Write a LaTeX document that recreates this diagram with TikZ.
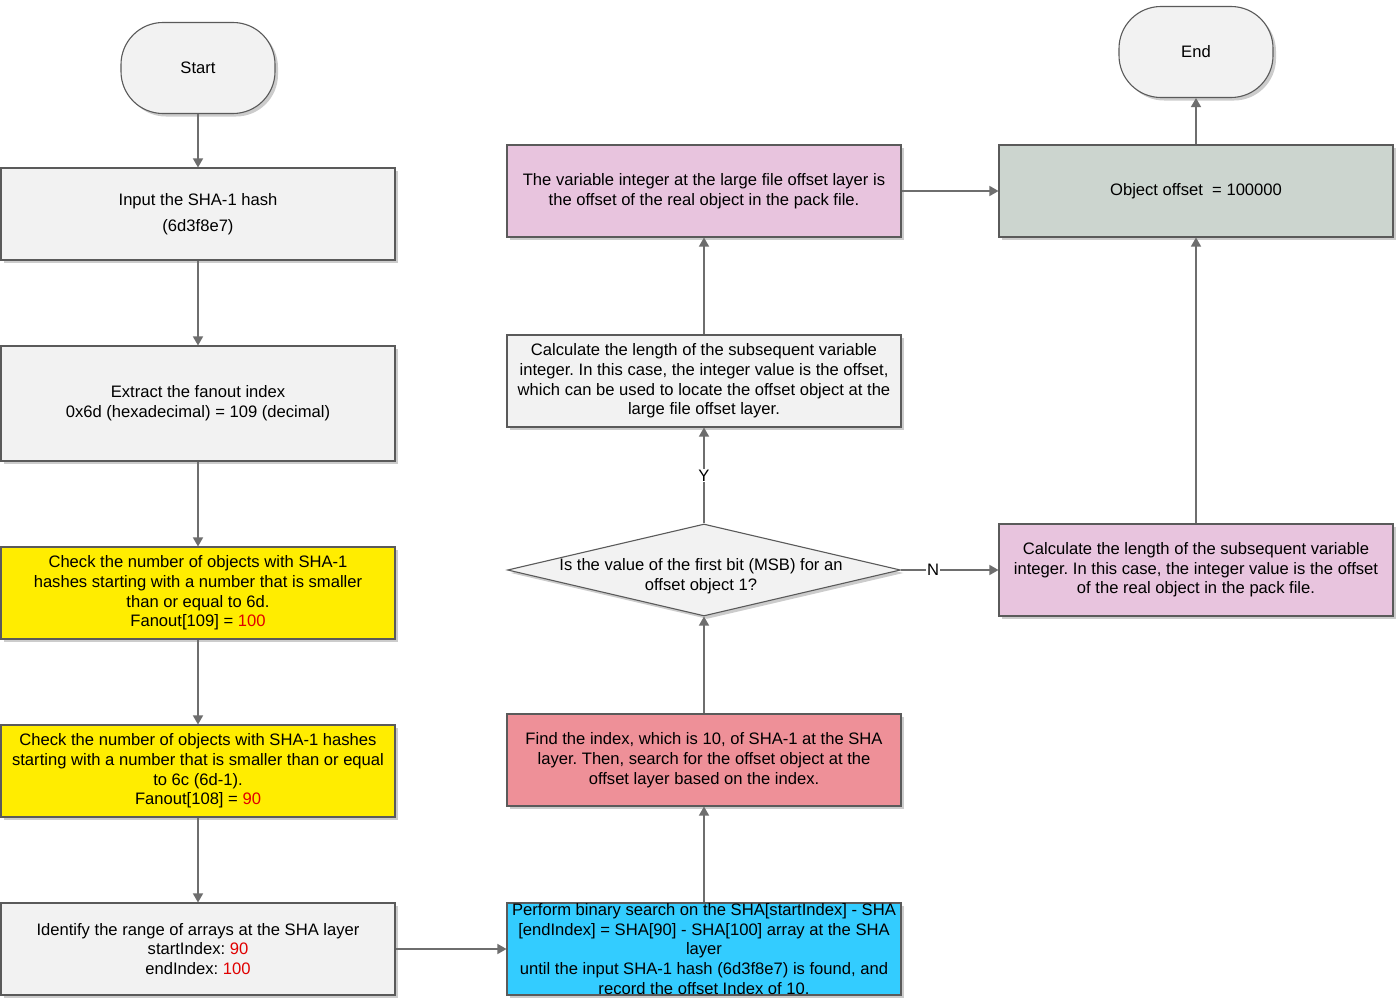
\documentclass[tikz,border=0pt]{standalone}
\usepackage{fontspec}
\setmainfont{Liberation Sans}
\usetikzlibrary{arrows.meta,shapes.geometric,shadows}
\definecolor{boxline}{HTML}{5A5A5A}
\definecolor{arrowc}{HTML}{6E6E6E}
\definecolor{lightfill}{HTML}{F2F2F2}
\definecolor{yellowfill}{HTML}{FFED00}
\definecolor{bluefill}{HTML}{33CCFF}
\definecolor{redfill}{HTML}{EE9098}
\definecolor{pinkfill}{HTML}{E8C4DE}
\definecolor{sagefill}{HTML}{CCD5CF}
\definecolor{numred}{HTML}{E00000}
\newcommand{\rn}[1]{\textcolor{numred}{#1}}
\frenchspacing
\tikzset{
  txt/.style={font=\fontsize{16.6}{19.7}\selectfont, align=center, text=black},
  shade3/.style={drop shadow={shadow xshift=3pt, shadow yshift=-3pt, fill=black, opacity=0.2}},
  procbox/.style={txt, rectangle, draw=boxline, line width=1.1pt, minimum width=394pt, minimum height=92pt, inner sep=0pt, shade3},
  termbox/.style={txt, rectangle, rounded corners=42pt, draw=boxline, line width=1.1pt, fill=lightfill, minimum width=154pt, minimum height=91pt, inner sep=0pt, shade3},
  decbox/.style={diamond, draw=boxline, line width=1.1pt, fill=lightfill, minimum width=393pt, minimum height=92pt, inner sep=0pt, shade3},
  arr/.style={draw=arrowc, line width=1.4pt, -{Triangle[length=9pt,width=10pt]}, color=arrowc},
  lbl/.style={txt, fill=white, inner sep=1pt}
}
\begin{document}
\begin{tikzpicture}[x=1pt,y=-1pt]
\useasboundingbox (0,0) rectangle (1400,998);
\fill[white] (0,0) rectangle (1400,998);

% left column
\node[termbox] (start) at (198,68) {Start};
\node[procbox, fill=lightfill] (input) at (198,214) {Input the SHA-1 hash\\[6pt](6d3f8e7)};
\node[procbox, fill=lightfill, minimum height=115pt] (extract) at (198,403.5) {Extract the fanout index\\0x6d (hexadecimal) = 109 (decimal)};
\node[procbox, fill=yellowfill] (check1) at (198,593) {Check the number of objects with SHA-1\\hashes starting with a number that is smaller\\than or equal to 6d.\\Fanout[109] = \rn{100}};
\node[procbox, fill=yellowfill] (check2) at (198,771) {Check the number of objects with SHA-1 hashes\\starting with a number that is smaller than or equal\\to 6c (6d-1).\\Fanout[108] = \rn{90}};
\node[procbox, fill=lightfill] (ident) at (198,949) {Identify the range of arrays at the SHA layer\\startIndex: \rn{90}\\endIndex: \rn{100}};

% middle column
\node[procbox, fill=bluefill] (perform) at (704,949) {Perform binary search on the SHA[startIndex] - SHA\\{}[endIndex] = SHA[90] - SHA[100] array at the SHA\\layer\\until the input SHA-1 hash (6d3f8e7) is found, and\\record the offset Index of 10.};
\node[procbox, fill=redfill] (find) at (704,760) {Find the index, which is 10, of SHA-1 at the SHA\\layer. Then, search for the offset object at the\\offset layer based on the index.};
\node[decbox] (dec) at (704,570) {};
\node[txt] (dectext) at (701,576) {Is the value of the first bit (MSB) for an\\offset object 1?};
\node[procbox, fill=lightfill] (calc) at (704,381) {Calculate the length of the subsequent variable\\integer. In this case, the integer value is the offset,\\which can be used to locate the offset object at the\\large file offset layer.};
\node[procbox, fill=pinkfill] (varint) at (704,191) {The variable integer at the large file offset layer is\\the offset of the real object in the pack file.};

% right column
\node[termbox] (end) at (1196,52) {End};
\node[procbox, fill=sagefill] (offset) at (1196,191) {Object offset\ \ = 100000};
\node[procbox, fill=pinkfill] (calcr) at (1196,570) {Calculate the length of the subsequent variable\\integer. In this case, the integer value is the offset\\of the real object in the pack file.};

% connectors
\draw[arr] (start) -- (input);
\draw[arr] (input) -- (extract);
\draw[arr] (extract) -- (check1);
\draw[arr] (check1) -- (check2);
\draw[arr] (check2) -- (ident);
\draw[arr] (ident) -- (perform);
\draw[arr] (perform) -- (find);
\draw[arr] (find) -- (dec);
\draw[arr] (dec) -- node[lbl] {Y} (calc);
\draw[arr] (calc) -- (varint);
\draw[arr] (varint) -- (offset);
\draw[arr] (dec.east) -- node[lbl, pos=0.33] {N} (calcr);
\draw[arr] (calcr) -- (offset);
\draw[arr] (offset) -- (end);
\end{tikzpicture}
\end{document}
